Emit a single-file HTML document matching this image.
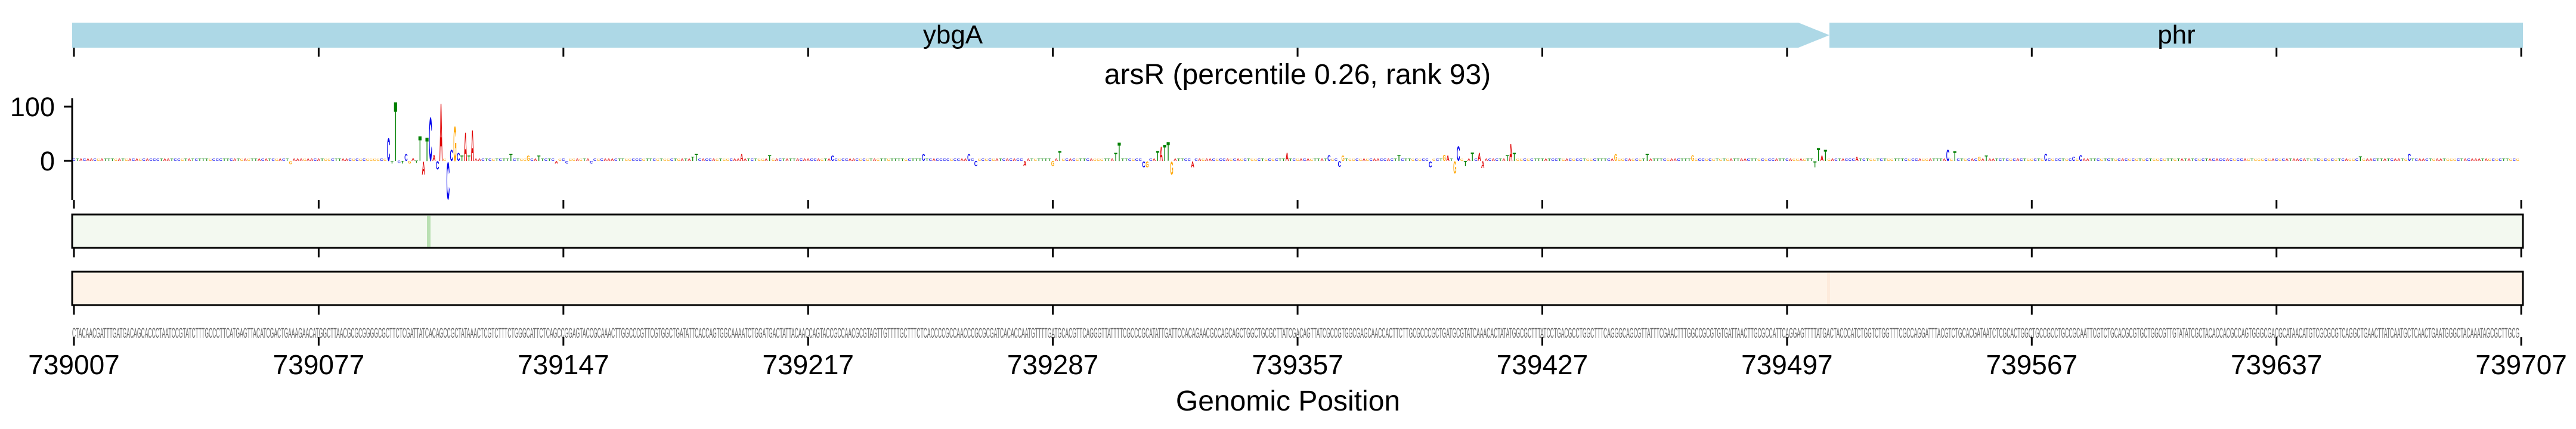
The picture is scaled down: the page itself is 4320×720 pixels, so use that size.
<!DOCTYPE html>
<html><head><meta charset="utf-8"><style>
html,body{margin:0;padding:0;background:#fff;}
svg{display:block;font-family:"Liberation Sans",sans-serif;}
</style></head><body>
<svg id="chart" width="4320" height="720" viewBox="0 0 4320 720" xmlns="http://www.w3.org/2000/svg">
  <g id="genes">
    <polygon points="121,38 3016,38 3068,59 3016,80 121,80" fill="#add8e6"/>
    <text x="1598" y="73" font-size="44" text-anchor="middle">ybgA</text>
    <rect x="3068" y="38" width="1163" height="42" fill="#add8e6"/>
    <text x="3650" y="73" font-size="44" text-anchor="middle">phr</text>
  </g>
  <text x="2176" y="141" font-size="48" text-anchor="middle">arsR (percentile 0.26, rank 93)</text>
  <g id="yaxis">
    <line x1="121" y1="165" x2="121" y2="336" stroke="#000" stroke-width="3"/>
  </g>
  <g id="logo"></g>
  <rect x="121" y="360" width="4110" height="56" fill="#f3f9f0" stroke="#000" stroke-width="3"/>
  <rect x="716" y="362" width="6" height="52" fill="#b9e0b2"/>
  <rect x="121" y="456" width="4110" height="56" fill="#fef3e8" stroke="#000" stroke-width="3"/>
  <rect x="3064" y="458" width="5" height="52" fill="#fdebdc"/>
  <text id="seq" x="121" y="567" font-size="24" fill="#666" lengthAdjust="spacingAndGlyphs"></text>
  <g id="ticks"></g>
  <text x="2160" y="689" font-size="48" text-anchor="middle">Genomic Position</text>
</svg>
<script>
const startPos = 739007;
const tickLabels = [739007, 739077, 739147, 739217, 739287, 739357, 739427, 739497, 739567, 739637, 739707];
const yTicks = [0, 100];
const sequence = "CTACAACGATTTGATGACAGCACCCTAATCCGTATCTTTGCCCTTCATGAGTTACATCGACTGAAAGAACATGGCTTAACGCGCGGGGCGCTTCTCGATTATCACAGCCGCTATAAACTCGTCTTTCTGGGCATTCTCAGCCGGAGTACCGCAAACTTGGCCCGTTCGTGGCTGATATTCACC" +
 "AGTGGCAAAATCTGGATGACTATTACAACCAGTACCGCCAACGCGTAGTTGTTTTGCTTTCTCACCCCGCCAACCCGCGCGATCACACCAATGTTTTGATGCA" +
 "CGTTCAGGGTTATTTTCGCCCGCATATTGATTCCACAGAACGCCAGCAGCTGGCTGCGCTTATCGACAGTTATCGCCGTGGCGAGCAACCACTTCTTGCGCCCGCTGA" +
 "TGCGTATCAAACACTATATGGCGCTTTATCCTGACGCCTGGCTTTCAGGGCAGCGTTATTTCGAACTTTGGCCGCGTGTGATTAACTTGCGCCATTCAGGAGTTTTAT" +
 "GACTACCCATCTGGTCTGGTTTCGCCAGGATTTACGTCTGCACGATAATCTCGCACTGGCTGCCGCCTGCCGCAATTCGTCTGCACGCGTGCTGGCGTTGTATATCGCTACACCACGCCAGTGGGCGACGCATAACATGTCGCGCGTCAGGCTGAACTTATCAATGCTCAACTGAATGGGCTACAAATAGCGCTTGCG";
const backgroundScore = 4;
const peakOffsets = [62,90,91,92,93,94,95,96,97,98,99,100,101,102,103,104,105,107,108,109,110,111,112,113,114,125,130,133,138,141,148,177,178,191,199,217,243,256,258,272,280,282,298,299,306,307,310,311,312,313,314,320,347,359,362,363,379,388,392,393,395,396,398,400,402,403,410,411,412,441,450,463,498,499,500,501,510,536,538,545,547,564,572,574,654,668];
const peakScores  = [-6,43,-5,113,-4,-5,13,-5,5,-4,47,-25,45,83,12,-16,110,-71,21,66,15,10,54,10,59,14,10,10,-5,-5,-5,8,14,13,11,10,13,13,-10,-10,-10,19,15,35,-12,-12,19,27,31,36,-25,-12,15,11,-11,10,11,-12,12,10,-23,28,-10,16,15,-13,11,32,15,13,14,11,-12,25,10,21,8,21,18,8,10,14,8,11,9,14];

const NS = "http://www.w3.org/2000/svg";
const N = 701, X0 = 121, X1 = 4231, bw = (X1 - X0) / N;
const yVal = v => 270 - v * 0.91;
const colors = {A:"#e00000", C:"#0000ee", G:"#ffa500", T:"#008000"};
const widths = {A:72, C:72, G:78, T:61};

const seqEl = document.getElementById('seq');
const seqStr = sequence.slice(0, N);
seqEl.textContent = seqStr;
seqEl.setAttribute('textLength', (seqStr.length * bw).toFixed(1));

const scores = new Array(N).fill(backgroundScore);
peakOffsets.forEach((o, i) => { scores[o] = peakScores[i]; });

const logo = document.getElementById('logo');
for (let i = 0; i < seqStr.length; i++) {
  const b = seqStr[i], v = scores[i];
  const h = Math.abs(yVal(v) - yVal(0));
  if (h < 0.5) continue;
  const t = document.createElementNS(NS, 'text');
  
  
  t.textContent = b;
  t.setAttribute('font-size', '100');
  t.setAttribute('font-weight', 'bold');
  t.setAttribute('fill', colors[b] || '#888');
  if (Math.abs(v) <= backgroundScore) t.setAttribute('opacity', '0.85');
  const sx = bw * 0.92 / widths[b], sy = h / 72;
  const xl = X0 + i * bw + bw * 0.04;
  const yb = v >= 0 ? yVal(0) : yVal(v);
  t.setAttribute('transform', `translate(${xl.toFixed(2)},${yb.toFixed(2)}) scale(${sx.toFixed(4)},${sy.toFixed(4)})`);
  logo.appendChild(t);
}

const yaxis = document.getElementById('yaxis');
yTicks.forEach(v => {
  const y = yVal(v);
  const l = document.createElementNS(NS, 'line');
  
  
  l.setAttribute('x1', 107); l.setAttribute('x2', 121);
  l.setAttribute('y1', y); l.setAttribute('y2', y);
  l.setAttribute('stroke', '#000'); l.setAttribute('stroke-width', '3');
  yaxis.appendChild(l);
  const t = document.createElementNS(NS, 'text');
  
  
  t.setAttribute('x', 92); t.setAttribute('y', y + 16);
  t.setAttribute('font-size', '45'); t.setAttribute('text-anchor', 'end');
  t.textContent = v;
  yaxis.appendChild(t);
});

const ticks = document.getElementById('ticks');
const tickBands = [[80,95],[336,350],[416,432],[513,528],[566,580]];
tickLabels.forEach(p => {
  const x = X0 + (p - startPos) * bw + 3;
  tickBands.forEach(([a, b]) => {
    const l = document.createElementNS(NS, 'line');
    
    
    l.setAttribute('x1', x); l.setAttribute('x2', x);
    l.setAttribute('y1', a); l.setAttribute('y2', b);
    l.setAttribute('stroke', '#000'); l.setAttribute('stroke-width', '3');
    ticks.appendChild(l);
  });
  const t = document.createElementNS(NS, 'text');
  
  
  t.setAttribute('x', x); t.setAttribute('y', 628);
  t.setAttribute('font-size', '46'); t.setAttribute('text-anchor', 'middle');
  t.textContent = p;
  ticks.appendChild(t);
});
</script>
</body></html>
